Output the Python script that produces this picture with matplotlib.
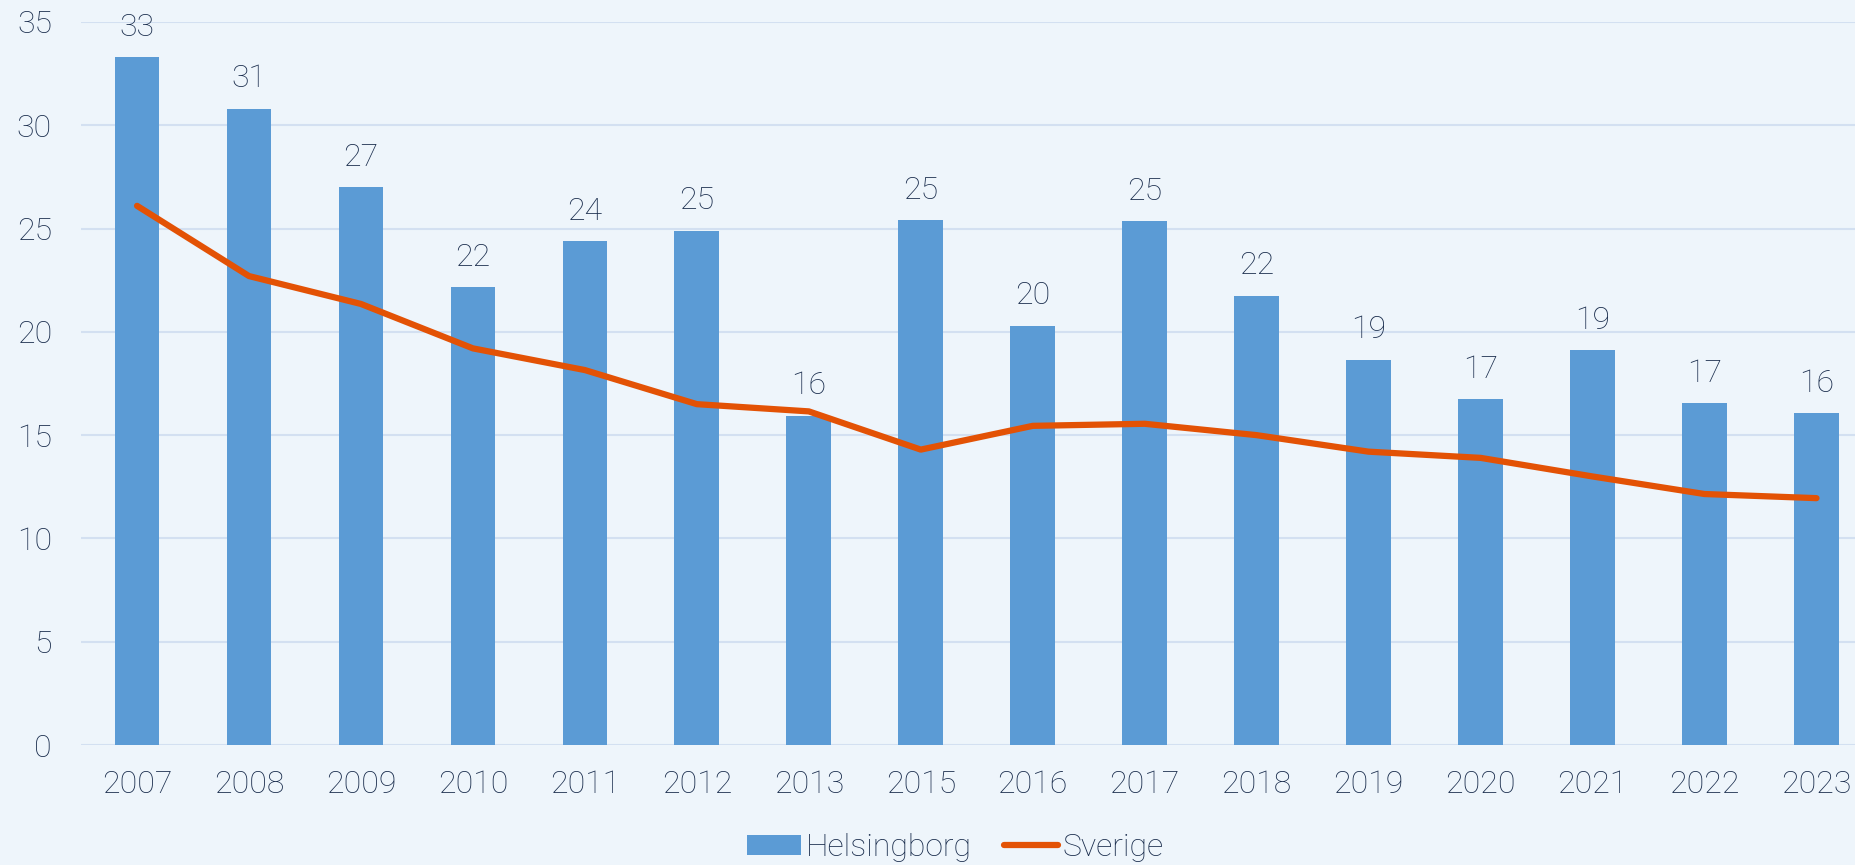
import matplotlib
matplotlib.use('Agg')
import matplotlib.pyplot as plt
import numpy as np

years = ['2007', '2008', '2009', '2010', '2011', '2012', '2013', '2015',
         '2016', '2017', '2018', '2019', '2020', '2021', '2022', '2023']
helsingborg = [33.3, 30.8, 27.0, 22.15, 24.4, 24.9, 15.95, 25.4,
               20.3, 25.35, 21.75, 18.65, 16.75, 19.1, 16.55, 16.05]
sverige = [26.1, 22.7, 21.35, 19.2, 18.15, 16.5, 16.15, 14.3,
           15.45, 15.55, 15.0, 14.2, 13.9, 13.0, 12.15, 11.95]

bg = '#EEF5FB'
txt = '#1A2D4D'
fs = 23
plt.rcParams['font.family'] = ['Roboto', 'DejaVu Sans']
plt.rcParams['font.weight'] = 'light'

fig = plt.figure(figsize=(18.55, 8.65), dpi=100, facecolor=bg)
ax = fig.add_axes([0.0437, 0.1387, 0.9563, 0.8359], facecolor=bg)

x = np.arange(len(years))
bars = ax.bar(x, helsingborg, width=0.40, color='#5B9BD5', label='Helsingborg', zorder=2)
line, = ax.plot(x, sverige, color='#E35205', lw=4.5, solid_capstyle='round', label='Sverige', zorder=3)

for xi, v in zip(x, helsingborg):
    ax.annotate(f'{v:.0f}', (xi, v), xytext=(0, 11), textcoords='offset points',
                ha='center', va='bottom', fontsize=fs, color=txt, fontweight='light')

ax.set_ylim(0, 35)
ax.set_xlim(-0.5, 15.344)
ax.set_yticks(range(0, 36, 5))
ax.set_xticks(x)
ax.set_xticklabels(years)
ax.yaxis.grid(True, color='#D3E0F1', lw=1.5, zorder=0)
ax.set_axisbelow(True)
for s in ax.spines.values():
    s.set_visible(False)
ax.tick_params(length=0, labelsize=fs, colors=txt)
ax.tick_params(axis='x', pad=18)
ax.tick_params(axis='y', pad=21)
for lab in ax.get_xticklabels() + ax.get_yticklabels():
    lab.set_fontweight('light')

leg = fig.legend([bars, line], ['Helsingborg', 'Sverige'], loc='center',
                 bbox_to_anchor=(0.515, 0.02), ncol=2, frameon=False,
                 prop={'size': fs, 'weight': 'light'}, handlelength=1.7,
                 handleheight=0.6, columnspacing=1.0, handletextpad=0.15)
for t in leg.get_texts():
    t.set_color(txt)

fig.savefig('out.png', dpi=100, facecolor=bg)
